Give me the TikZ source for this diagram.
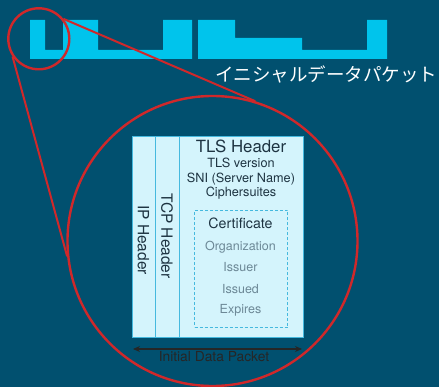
\documentclass[tikz,border=0pt]{standalone}
\usepackage{fontspec}
\setmainfont{TeX Gyre Heros}
\newfontfamily\jpfont{Noto Sans CJK JP}
\usetikzlibrary{arrows.meta}

\definecolor{bgblue}{HTML}{01506F}
\definecolor{pktcyan}{HTML}{00C4EC}
\definecolor{ringred}{HTML}{D0282A}
\definecolor{boxfill}{HTML}{D4F4FC}
\definecolor{boxedge}{HTML}{45B9DE}
\definecolor{darktext}{HTML}{1E3442}
\definecolor{greytext}{HTML}{6C8896}

\tikzset{
  ring/.style={circle, draw=ringred, line width=2.4pt, inner sep=0pt},
  redline/.style={draw=ringred, line width=2pt},
  col/.style={rectangle, draw=boxedge, fill=boxfill, line width=1pt,
              inner sep=0pt, anchor=north west},
  hdr/.style={text=darktext, inner sep=0pt, font=\fontsize{15.5}{18}\selectfont},
  bigtxt/.style={text=darktext, inner sep=0pt, anchor=base, font=\fontsize{16.8}{20}\selectfont},
  midtxt/.style={text=darktext, inner sep=0pt, anchor=base, font=\fontsize{12.7}{15}\selectfont},
  certtxt/.style={text=darktext, inner sep=0pt, anchor=base, font=\fontsize{14.2}{17}\selectfont},
  fieldtxt/.style={text=greytext, inner sep=0pt, anchor=base, font=\fontsize{12.5}{15}\selectfont},
}

\begin{document}
\begin{tikzpicture}[x=1pt, y=-1pt]
  % background
  \fill[bgblue] (0,0) rectangle (439,387);
  \useasboundingbox (0,0) rectangle (439,387);

  % packet stream
  \fill[pktcyan] (30,20) -- (45,20) -- (45,50) -- (63,50) -- (63,20) -- (98,20)
    -- (98,50) -- (163,50) -- (163,20) -- (192,20) -- (192,59) -- (30,59) -- cycle;
  \fill[pktcyan] (198,20) -- (235,20) -- (235,38) -- (302,38) -- (302,50)
    -- (367,50) -- (367,20) -- (387,20) -- (387,59) -- (198,59) -- cycle;
  \node[text=white, inner sep=0pt, font=\jpfont\fontsize{18.5}{22}\selectfont]
    (title) at (326,74.5) {イニシャルデータパケット};

  % packet layout
  \node[col, minimum width=23pt, minimum height=201pt] (ip) at (132,136) {};
  \node[col, minimum width=24pt, minimum height=201pt] (tcp) at (155,136) {};
  \node[col, minimum width=124pt, minimum height=201pt] (tls) at (179,136) {};
  \node[hdr, rotate=-90] (iplabel) at (143.5,240) {IP Header};
  \node[hdr, rotate=-90] (tcplabel) at (167,236) {TCP Header};

  \node[bigtxt] (tlshead) at (241,153) {TLS Header};
  \node[midtxt] (tlsver) at (241,168) {TLS version};
  \node[midtxt] (sni) at (241,182.5) {SNI (Server Name)};
  \node[midtxt] (ciph) at (241,197) {Ciphersuites};

  \node[draw=boxedge, dashed, dash pattern=on 3pt off 2pt, line width=1pt,
        minimum width=93pt, minimum height=117pt, inner sep=0pt, anchor=north west]
        (cert) at (194,210) {};
  \node[certtxt] (certlabel) at (240.5,229) {Certificate};
  \node[fieldtxt] (org) at (240.5,251) {Organization};
  \node[fieldtxt] (issuer) at (240.5,272) {Issuer};
  \node[fieldtxt] (issued) at (240.5,293.5) {Issued};
  \node[fieldtxt] (expires) at (240.5,313) {Expires};

  % length of the packet
  \coordinate (arrL) at (133,349);
  \coordinate (arrR) at (302,349);
  \draw[draw=black!85, line width=1.1pt, {Stealth[length=7pt,width=6pt]}-{Stealth[length=7pt,width=6pt]}]
    (arrL) -- (arrR);
  \node[text=black!85, inner sep=0pt, anchor=base, font=\fontsize{13.8}{16}\selectfont]
    (caption) at (214,361.5) {Initial Data Packet};

  % magnifier rings and their connecting lines
  \node[ring, minimum size=61pt] (lens) at (38.8,38.8) {};
  \node[ring, minimum size=290pt] (zoom) at (212.5,241) {};
  \draw[redline] (lens.214) -- (zoom.186.3);
  \draw[redline] (lens.39) -- (zoom.73.6);
\end{tikzpicture}
\end{document}
